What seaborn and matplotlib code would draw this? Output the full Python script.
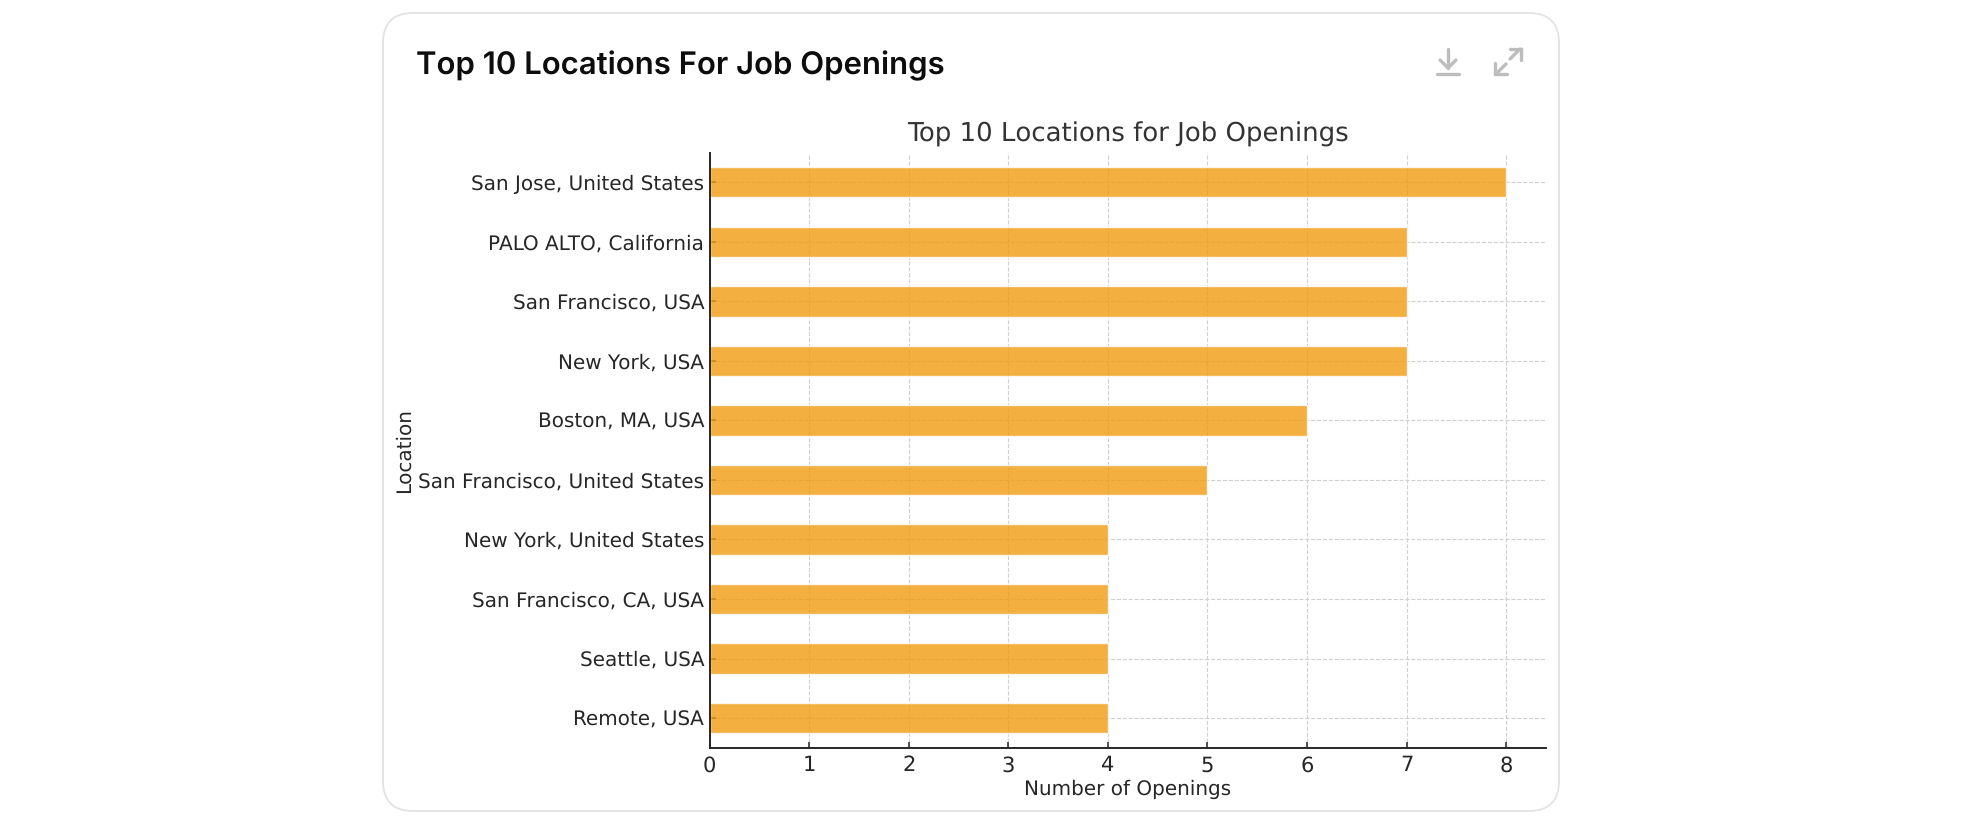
import matplotlib
matplotlib.use("Agg")
import matplotlib.pyplot as plt
from matplotlib.patches import FancyBboxPatch
from matplotlib.lines import Line2D
import seaborn as sns
import pandas as pd

locations = ["San Jose, United States", "PALO ALTO, California", "San Francisco, USA",
             "New York, USA", "Boston, MA, USA", "San Francisco, United States",
             "New York, United States", "San Francisco, CA, USA", "Seattle, USA", "Remote, USA"]
openings = [8, 7, 7, 7, 6, 5, 4, 4, 4, 4]
chart_title = "Top 10 Locations for Job Openings"
card_title = "Top 10 Locations For Job Openings"
x_label = "Number of Openings"
y_label = "Location"

W, H = 1968, 832
TXT = "#262626"
sns.set_theme(style="white")
plt.rcParams["font.family"] = ["DejaVu Sans"]
plt.rcParams["text.hinting"] = "no_hinting"
plt.rcParams["text.hinting_factor"] = 1

fig = plt.figure(figsize=(W / 100, H / 100), dpi=100, facecolor="white")

# page-level overlay in pixel coordinates: card, heading and icons
bg = fig.add_axes([0, 0, 1, 1], zorder=0)
bg.set_xlim(0, W)
bg.set_ylim(H, 0)
bg.axis("off")
bg.add_patch(FancyBboxPatch((383 + 30, 13 + 30), 1559 - 383 - 60, 811 - 13 - 60,
                            boxstyle="round,pad=30,rounding_size=30",
                            fc="white", ec="#E3E3E3", lw=1.3))
bg.text(416.5, 66, card_title, fontsize=22.4, fontweight="semibold", family="Inter",
        color="#0D0D0D", va="center", ha="left")
ICON = "#BDBDBD"
for xs, ys in [([1448, 1448], [49, 68]), ([1440, 1448, 1456], [60, 68, 60]),
               ([1437, 1459], [74, 74]),
               ([1520, 1510], [49, 59]), ([1510, 1521, 1521], [49, 49, 60]),
               ([1496, 1506], [74, 64]), ([1495, 1495, 1507], [63, 74, 74])]:
    bg.add_line(Line2D(xs, ys, color=ICON, lw=2.4, solid_capstyle="round",
                       solid_joinstyle="miter"))

# chart
ax_l, ax_r, ax_t, ax_b = 709.7, 1546, 152.5, 747.8
ax = fig.add_axes([ax_l / W, 1 - ax_b / H, (ax_r - ax_l) / W, (ax_b - ax_t) / H], zorder=1)
ax.patch.set_alpha(0)
df = pd.DataFrame({"Location": locations, "Openings": openings})
sns.barplot(data=df, y="Location", x="Openings", orient="h", color="#F09D12",
            saturation=1, alpha=0.8, width=0.51, ax=ax, zorder=2)
ax.set_xlim(0, 8.4)
ax.set_ylim(9.5, -0.5)
ax.set_xticks(range(0, 9))
ax.grid(True, axis="both", linestyle="--", linewidth=0.8, color="#D0D0D0", zorder=1)
ax.set_axisbelow(True)
for s in ["top", "right"]:
    ax.spines[s].set_visible(False)
for s in ["left", "bottom"]:
    ax.spines[s].set_color("#262626")
    ax.spines[s].set_linewidth(1.4)
ax.tick_params(axis="both", direction="in", length=4.5, width=1.1, color="#262626",
               labelcolor=TXT, left=True, bottom=True)
ax.tick_params(axis="y", labelsize=14.2, pad=4)
ax.tick_params(axis="x", labelsize=14.8, pad=5.5)
ax.set_xlabel(x_label, fontsize=14.5, color=TXT, labelpad=2.5)
ax.set_ylabel(y_label, fontsize=14.5, color=TXT, labelpad=3)
ax.set_title(chart_title, fontsize=19, color="#333333", pad=7.5)

fig.savefig("out.png", dpi=100, facecolor="white")
